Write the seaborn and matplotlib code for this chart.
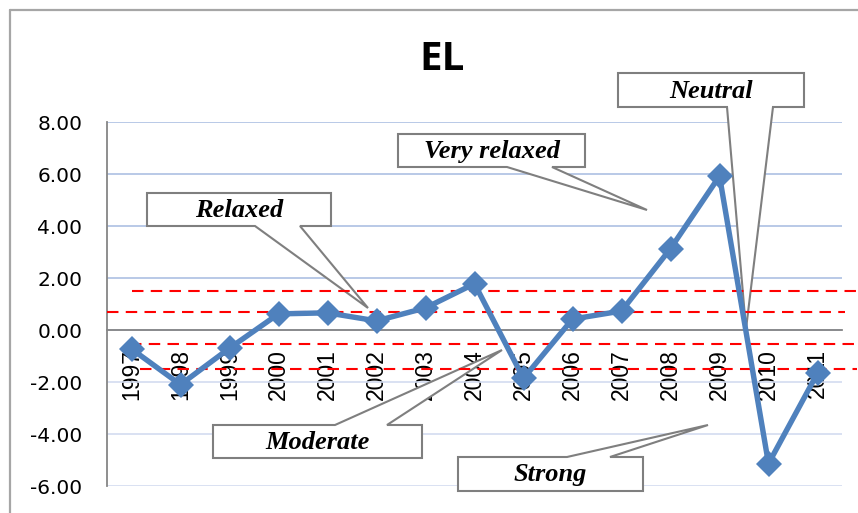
import matplotlib
matplotlib.use("Agg")
import matplotlib.pyplot as plt
import seaborn as sns
import pandas as pd
import numpy as np
from matplotlib.transforms import Affine2D
from matplotlib.patches import Polygon
from matplotlib.lines import Line2D

# ---- data -------------------------------------------------------------
years = ["1997", "1998", "1999", "2000", "2001", "2002", "2003", "2004",
         "2005", "2006", "2007", "2008", "2009", "2010", "2011"]
el_values = [-0.73, -2.10, -0.70, 0.62, 0.66, 0.35, 0.85, 1.78,
             -1.86, 0.42, 0.73, 3.13, 5.92, -5.14, -1.66]
threshold_levels = [1.50, 0.70, -0.55, -1.50]
y_ticks = [-6, -4, -2, 0, 2, 4, 6, 8]
callout_labels = ["Relaxed", "Very relaxed", "Neutral", "Moderate", "Strong"]

# ---- styling ----------------------------------------------------------
sns.set_theme(style="white")
plt.rcParams["font.family"] = ["DejaVu Sans"]
plt.rcParams["axes.unicode_minus"] = False

W, H = 858, 513
fig = plt.figure(figsize=(W / 100, H / 100), dpi=100)
fig.patch.set_facecolor("white")

# pixel coordinates (origin top-left) -> figure
px = Affine2D().scale(1 / W, -1 / H).translate(0, 1) + fig.transFigure

ax = fig.add_axes([107 / W, 1 - 486 / H, (842 - 107) / W, (486 - 122) / H])
ax.set_facecolor("white")

df = pd.DataFrame({"year": years, "EL": el_values})
sns.lineplot(data=df, x="year", y="EL", ax=ax, sort=False,
             color="#4f81bd", linewidth=3.9, marker="D", markersize=13.5,
             markeredgecolor="#4f81bd", markeredgewidth=0, zorder=6)

ax.set_xlim(-0.5, len(years) - 0.5)
ax.set_ylim(-6, 8)
ax.set_xlabel("")
ax.set_ylabel("")

axis_gray = "#868686"
for side in ("top", "right"):
    ax.spines[side].set_visible(False)
ax.spines["left"].set_color(axis_gray)
ax.spines["left"].set_linewidth(1.3)
ax.spines["bottom"].set_position(("data", 0))
ax.spines["bottom"].set_color(axis_gray)
ax.spines["bottom"].set_linewidth(1.3)

# category labels under the zero line, tick marks between categories
ax.set_xticks(range(len(years)))
ax.set_xticklabels(years, rotation=90, fontfamily="Liberation Sans", fontsize=16.5)
ax.set_xticks(np.arange(-0.5, len(years), 1.0), minor=True)
ax.tick_params(axis="x", which="major", length=0, pad=13.5, labelcolor="black")
ax.tick_params(axis="x", which="minor", length=5.8, width=1.3,
               direction="out", color=axis_gray)

ax.set_yticks(y_ticks)
ax.set_yticklabels([f"{v:.2f}" for v in y_ticks])
ax.tick_params(axis="y", length=5.8, width=1.3, direction="out",
               color=axis_gray, pad=12, labelsize=14.5, labelcolor="black")

ax.set_axisbelow(True)
ax.yaxis.grid(True, color="#adc0e3", linewidth=1.2)
ax.xaxis.grid(False)
# gridlines below zero are drawn in a paler tint
for tick, val in zip(ax.yaxis.get_major_ticks(), y_ticks):
    if val < 0:
        tick.gridline.set_color("#d3dcf0")

# regime thresholds
threshold_spans = [(0.034, 1.02), (0.0, 1.004), (0.031, 1.02), (0.045, 1.02)]
for level, (x0, x1) in zip(threshold_levels, threshold_spans):
    ax.axhline(level, xmin=x0, xmax=x1, color="#ff0000", linewidth=1.5,
               dashes=(5.5, 3.5), clip_on=False, zorder=5)

# callout boxes: box (left, top, right, bottom), pointer side, base, tip
callout_shapes = [
    ((147, 193, 331, 226), "bottom", (255, 300), (368, 308)),
    ((398, 134, 585, 167), "bottom", (507, 552), (647, 210)),
    ((618, 73, 804, 107), "bottom", (727, 773), (746, 329)),
    ((213, 425, 422, 458), "top", (335, 387), (502, 350)),
    ((458, 457, 643, 491), "top", (567, 610), (708, 425)),
]
for label, (box, side, (a, b), tip) in zip(callout_labels, callout_shapes):
    x0, y0, x1, y1 = box
    if side == "bottom":
        pts = [(x0, y0), (x1, y0), (x1, y1), (b, y1), tip, (a, y1), (x0, y1)]
    else:
        pts = [(x0, y1), (x1, y1), (x1, y0), (b, y0), tip, (a, y0), (x0, y0)]
    ax.add_patch(Polygon(pts, closed=True, transform=px, facecolor="white",
                         edgecolor="#7f7f7f", linewidth=1.5, clip_on=False,
                         zorder=3, joinstyle="miter"))
    ax.text((x0 + x1) / 2, (y0 + y1) / 2 + 1, label, transform=px,
            ha="center", va="center", fontsize=19, fontweight="bold",
            fontstyle="italic", fontfamily="Liberation Serif",
            color="black", zorder=4, clip_on=False)

# title
fig.text(442 / W, 1 - 60 / H, "EL", ha="center", va="center",
         fontsize=29, fontweight="bold", fontfamily="Open Sans", color="black")

# chart-area border
frame_color = "#a6a6a6"
fig.add_artist(Line2D([10 / W, 10 / W], [1 - 9.5 / H, 0], color=frame_color,
                      linewidth=1.6))
fig.add_artist(Line2D([10 / W, 1], [1 - 9.5 / H, 1 - 9.5 / H],
                      color=frame_color, linewidth=1.6))

fig.savefig("out.png", dpi=100)
